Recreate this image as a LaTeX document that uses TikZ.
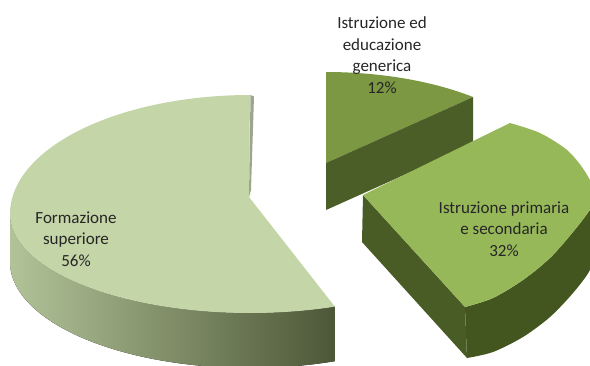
\documentclass[tikz,border=0pt]{standalone}
\usepackage{fontspec}
\setmainfont{Carlito}
\definecolor{bigtop}{HTML}{C4D5A8}
\definecolor{bigwallL}{HTML}{B2C398}
\definecolor{bigwallM}{HTML}{97A97A}
\definecolor{bigwallR}{HTML}{4C5737}
\definecolor{bigsliver}{HTML}{9CA68E}
\definecolor{smalltop}{HTML}{7C9842}
\definecolor{smallside}{HTML}{4B5E27}
\definecolor{midtop}{HTML}{97B859}
\definecolor{midwall}{HTML}{44561F}
\definecolor{midside}{HTML}{4A5C25}
\definecolor{labeltext}{HTML}{262626}
\begin{document}
\begin{tikzpicture}[x=1pt,y=-1pt,
  lbl/.style={align=center, font=\fontsize{17}{21.5}\selectfont, text=labeltext, inner sep=0pt}]
\useasboundingbox (0,0) rectangle (590,365);
\clip (0,0) rectangle (590,365);

% ---- 12% slice (back) ----
\coordinate (sA) at (326,163);
\coordinate (sB) at (473.2,97);
\coordinate (sB2) at (473.2,144);
\coordinate (sA2) at (326,210);
\fill[smalltop] (sA) -- plot[domain=90:49.8,samples=40] ({326+228*cos(\x)},{178-106*sin(\x)}) -- cycle;
\fill[smallside] (sA) -- (sB) -- (sB2) -- (sA2) -- cycle;

% ---- 56% slice ----
\fill[left color=bigwallL, middle color=bigwallM, right color=bigwallR]
  plot[domain=180:290.7,samples=80] ({250+240*cos(\x)},{214-99*sin(\x)})
  -- plot[domain=290.7:180,samples=80] ({250+240*cos(\x)},{214-99*sin(\x)+48-7*sin(\x)}) -- cycle;
\coordinate (bA) at (249,197);
\fill[bigtop] (bA) -- plot[domain=90:290.7,samples=120] ({250+240*cos(\x)},{214-(sin(\x)>0 ? 119 : 99)*sin(\x)}) -- cycle;
\fill[bigsliver] (250.5,95) -- (254,96.5) -- (251,190) -- (bA) -- cycle;

% ---- 32% slice ----
\coordinate (mA) at (363,195);
\coordinate (mF) at (465,307);
\coordinate (mF2) at (467,358);
\coordinate (mA2) at (362,242);
\fill[midwall] plot[smooth] coordinates {(595,192) (591,208) (573,232) (550,258) (523,280) (493,298) (465,307)}
  -- (467,358) -- plot[smooth] coordinates {(467,358) (493,352) (523,337) (550,317) (573,293) (590,270) (602,240)} -- (602,192) -- cycle;
\fill[midside] (mA) -- (mF) -- (mF2) -- (mA2) -- cycle;
\fill[midtop] (mA) -- plot[smooth] coordinates {(510,123) (540,133) (567,150) (584,170) (595,192) (591,208) (573,232) (550,258) (523,280) (493,298) (465,307)} -- cycle;

% ---- labels ----
\node[lbl] (l56) at (76,239) {Formazione\\superiore\\56\%};
\node[lbl] (l12) at (382,55) {Istruzione ed\\educazione\\generica\\12\%};
\node[lbl] (l32) at (504,229) {Istruzione primaria\\e secondaria\\32\%};
\end{tikzpicture}
\end{document}
